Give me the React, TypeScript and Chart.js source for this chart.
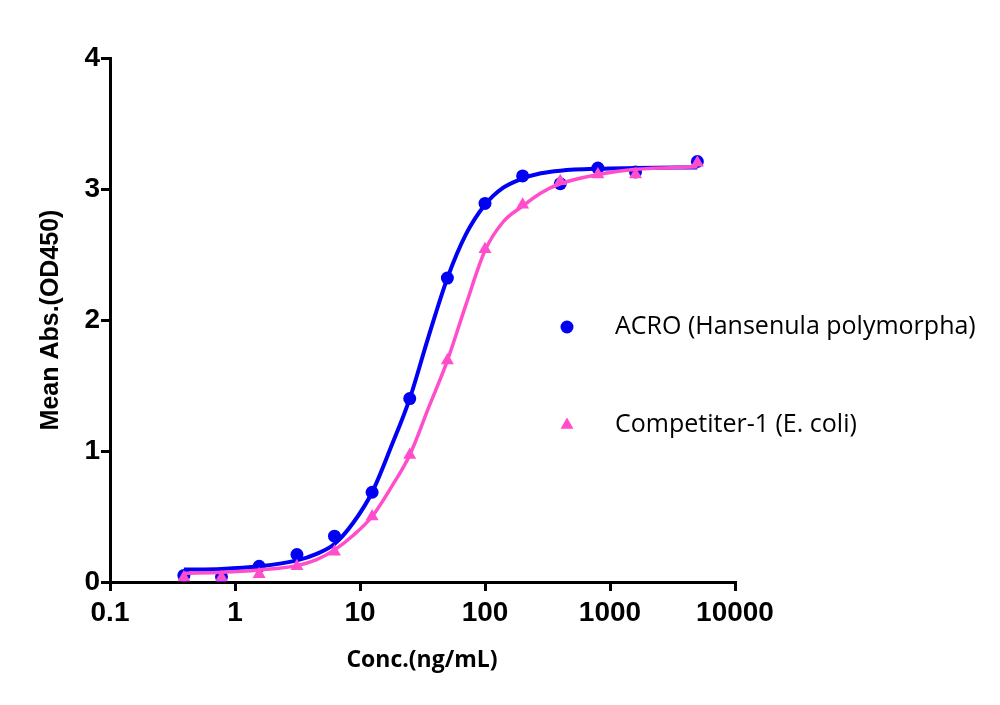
import React, { useEffect, useRef } from "react";
import { Chart, registerables } from "chart.js";

Chart.register(...registerables);

// Measured concentrations (ng/mL)
const concentrations = [0.39, 0.78, 1.56, 3.13, 6.25, 12.5, 25, 50, 100, 200, 400, 800, 1600, 5000];
const acroValues = [0.05, 0.04, 0.12, 0.21, 0.35, 0.685, 1.4, 2.32, 2.89, 3.1, 3.04, 3.16, 3.13, 3.21];
const competitorValues = [0.035, 0.035, 0.06, 0.12, 0.23, 0.5, 0.97, 1.69, 2.54, 2.88, 3.06, 3.11, 3.11, 3.2];

// Fitted curves
const fitConc = [0.39, 0.78, 1.56, 3.13, 4.5, 6.25, 8.8, 12.5, 17.7, 25, 35, 50, 70, 100, 140, 200, 280, 400, 800, 1600, 5000];
const acroFit = [0.095, 0.1, 0.12, 0.165, 0.215, 0.29, 0.45, 0.685, 1.03, 1.4, 1.86, 2.32, 2.65, 2.88, 3.01, 3.08, 3.12, 3.14, 3.155, 3.16, 3.165];
const competitorFit = [0.066, 0.074, 0.092, 0.125, 0.17, 0.245, 0.355, 0.5, 0.72, 0.97, 1.32, 1.69, 2.11, 2.53, 2.75, 2.87, 2.97, 3.04, 3.11, 3.15, 3.17];

const xTicks = [0.1, 1, 10, 100, 1000, 10000];
const xTickLabels = ["0.1", "1", "10", "100", "1000", "10000"];
const yTicks = [0, 1, 2, 3, 4];

const seriesNames = ["ACRO (Hansenula polymorpha)", "Competiter-1 (E. coli)"];
const xTitle = "Conc.(ng/mL)";
const yTitle = "Mean Abs.(OD450)";

const BLUE = "#0000F5";
const PINK = "#FF4DCC";

const toPts = (xs: number[], ys: number[]) => xs.map((x, i) => ({ x, y: ys[i] }));

export default function App() {
  const ref = useRef<HTMLCanvasElement | null>(null);

  useEffect(() => {
    if (!ref.current) return;
    const overlay = {
      id: "overlay",
      afterDraw(chart: any) {
        const ctx = chart.ctx;
        ctx.save();
        ctx.fillStyle = "#000";
        // y title
        ctx.save();
        ctx.translate(51, 320);
        ctx.rotate(-Math.PI / 2);
        ctx.font = "bold 25px 'Liberation Sans', Arial, sans-serif";
        ctx.textAlign = "center";
        ctx.textBaseline = "middle";
        ctx.fillText(yTitle, 0, 0);
        ctx.restore();
        // x title
        ctx.font = "bold 23px 'Open Sans', sans-serif";
        ctx.textAlign = "center";
        ctx.textBaseline = "middle";
        ctx.fillText(xTitle, 422, 660);
        // legend
        const items = [
          { y: 327, color: BLUE, style: "circle" },
          { y: 425, color: PINK, style: "triangle" },
        ];
        items.forEach((it, i) => {
          ctx.fillStyle = it.color;
          ctx.beginPath();
          if (it.style === "circle") {
            ctx.arc(567, it.y, 6.5, 0, Math.PI * 2);
          } else {
            const r = 7.5;
            ctx.moveTo(567, it.y - r);
            ctx.lineTo(567 + r * Math.sin((2 * Math.PI) / 3), it.y - r * Math.cos((2 * Math.PI) / 3));
            ctx.lineTo(567 + r * Math.sin((4 * Math.PI) / 3), it.y - r * Math.cos((4 * Math.PI) / 3));
            ctx.closePath();
          }
          ctx.fill();
          ctx.fillStyle = "#000";
          ctx.font = "25px 'Open Sans', sans-serif";
          ctx.textAlign = "left";
          ctx.textBaseline = "middle";
          ctx.fillText(seriesNames[i], 615, it.y);
        });
        ctx.restore();
      },
    };

    const chart = new Chart(ref.current, {
      type: "line",
      data: {
        datasets: [
          {
            label: seriesNames[0] + " fit",
            data: toPts(fitConc, acroFit),
            borderColor: BLUE,
            borderWidth: 4,
            pointRadius: 0,
            cubicInterpolationMode: "monotone",
            fill: false,
            order: 4,
          },
          {
            label: seriesNames[0],
            data: toPts(concentrations, acroValues),
            showLine: false,
            pointStyle: "circle",
            pointRadius: 6.5,
            pointBackgroundColor: BLUE,
            pointBorderColor: BLUE,
            pointBorderWidth: 0,
            order: 3,
          },
          {
            label: seriesNames[1] + " fit",
            data: toPts(fitConc, competitorFit),
            borderColor: PINK,
            borderWidth: 3.5,
            pointRadius: 0,
            cubicInterpolationMode: "monotone",
            fill: false,
            order: 2,
          },
          {
            label: seriesNames[1],
            data: toPts(concentrations, competitorValues),
            showLine: false,
            pointStyle: "triangle",
            pointRadius: 7.5,
            pointBackgroundColor: PINK,
            pointBorderColor: PINK,
            pointBorderWidth: 0,
            order: 1,
          },
        ],
      },
      options: {
        responsive: false,
        animation: false,
        layout: { padding: { left: 0, top: 58, right: 265, bottom: 0 } },
        plugins: { legend: { display: false }, tooltip: { enabled: false } },
        scales: {
          x: {
            type: "logarithmic",
            min: 0.1,
            max: 10000,
            afterBuildTicks(scale: any) {
              scale.ticks = xTicks.map((v) => ({ value: v }));
            },
            afterFit(scale: any) {
              scale.height = 123;
            },
            grid: { display: true, drawOnChartArea: false, drawTicks: true, tickLength: 9, color: "#000", lineWidth: 3 },
            border: { display: true, color: "#000", width: 3 },
            ticks: {
              autoSkip: false,
              maxRotation: 0,
              padding: 5,
              color: "#000",
              font: { family: "'Liberation Sans', Arial, sans-serif", weight: "bold", size: 28 },
              callback: (v: any) => {
                const i = xTicks.findIndex((t) => Math.abs(t - Number(v)) < 1e-9 * Math.max(1, t));
                return i >= 0 ? xTickLabels[i] : "";
              },
            },
          },
          y: {
            type: "linear",
            min: 0,
            max: 4,
            afterBuildTicks(scale: any) {
              scale.ticks = yTicks.map((v) => ({ value: v }));
            },
            afterFit(scale: any) {
              scale.width = 110;
            },
            grid: { display: true, drawOnChartArea: false, drawTicks: true, tickLength: 9, color: "#000", lineWidth: 3 },
            border: { display: true, color: "#000", width: 3 },
            ticks: {
              padding: 1,
              color: "#000",
              font: { family: "'Liberation Sans', Arial, sans-serif", weight: "bold", size: 28 },
              callback: (v: any) => String(v),
            },
          },
        },
      },
      plugins: [overlay],
    } as any);
    return () => chart.destroy();
  }, []);

  return (
    <div style={{ position: "absolute", left: 0, top: 0, width: 1000, height: 705, background: "#fff" }}>
      <canvas ref={ref} width={1000} height={705} />
    </div>
  );
}
